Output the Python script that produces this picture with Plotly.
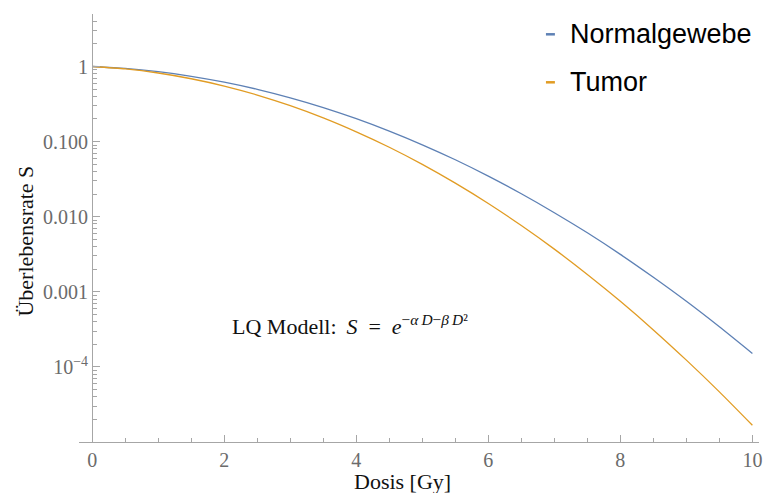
import plotly.graph_objects as go

# Dose grid [Gy] and surviving fractions of the two tissues
dose = [0.0, 0.5, 1.0, 1.5, 2.0, 2.5, 3.0, 3.5, 4.0, 4.5, 5.0,
        5.5, 6.0, 6.5, 7.0, 7.5, 8.0, 8.5, 9.0, 9.5, 10.0]
s_normal = [1.0, 0.942, 0.852, 0.741, 0.619, 0.497, 0.383, 0.284, 0.202, 0.138, 0.0907,
            0.0573, 0.0347, 0.0202, 0.0113, 0.0061, 0.00315, 0.00156, 0.000747, 0.000342, 0.000151]
s_tumor = [1.0, 0.928, 0.819, 0.687, 0.549, 0.417, 0.301, 0.207, 0.135, 0.0842, 0.0498,
           0.0280, 0.0150, 0.00763, 0.00370, 0.00170, 0.000747, 0.000311, 0.000123, 0.0000465, 0.0000167]

series_names = ["Normalgewebe", "Tumor"]
colors = ["#5E81B5", "#E19C24"]

x_ticks = [0, 2, 4, 6, 8, 10]
y_ticks = [1, 0.1, 0.01, 0.001, 0.0001]
y_ticktext = ["1", "0.100", "0.010", "0.001", "10<sup>\u22124</sup>"]

AXIS = "#a6a6a6"
TICKFONT = dict(family="Liberation Serif", size=20, color="#6b6b6b")
SERIF = "Liberation Serif"

fig = go.Figure()
for name, ys, col in zip(series_names, [s_normal, s_tumor], colors):
    fig.add_trace(go.Scatter(x=dose, y=ys, mode="lines", name=name,
                             line=dict(color=col, width=1.3, shape="spline", smoothing=0.6),
                             showlegend=False))

# minor ticks on the log axis: 2..9 in each decade
y_minor = [m * 10.0 ** k for k in range(-5, 1) for m in range(2, 10)]
y_minor = [v for v in y_minor if v <= 5.0]

fig.update_layout(
    width=767, height=493,
    margin=dict(l=79, r=5, t=14, b=51),
    paper_bgcolor="white", plot_bgcolor="white",
    xaxis=dict(range=[-0.2, 10.1], showgrid=False, zeroline=False,
               showline=True, linecolor=AXIS, linewidth=1.2,
               tickmode="array", tickvals=x_ticks,
               ticks="inside", ticklen=7, tickcolor=AXIS, tickwidth=1,
               tickfont=TICKFONT,
               minor=dict(tick0=0, dtick=0.5, ticks="inside", ticklen=4,
                          tickcolor=AXIS, tickwidth=1)),
    yaxis=dict(type="log", range=[-5, 0.699], showgrid=False, zeroline=False,
               anchor="free", position=0.2 / 10.3,
               showline=True, linecolor=AXIS, linewidth=1.2,
               tickmode="array", tickvals=y_ticks, ticktext=y_ticktext,
               ticks="inside", ticklen=7, tickcolor=AXIS, tickwidth=1,
               tickfont=TICKFONT,
               minor=dict(tickmode="array", tickvals=y_minor, ticks="inside",
                          ticklen=4, tickcolor=AXIS, tickwidth=1)),
)

# axis titles
fig.add_annotation(text="Dosis [Gy]", xref="paper", yref="paper",
                   x=(404 - 79) / 683, y=(441.7 - 481) / 428,
                   xanchor="center", yanchor="middle", showarrow=False,
                   font=dict(family=SERIF, size=22, color="#111111"))
fig.add_annotation(text="Überlebensrate S", xref="paper", yref="paper",
                   x=(25 - 79) / 683, y=(441.7 - 241) / 428, textangle=-90,
                   xanchor="center", yanchor="middle", showarrow=False,
                   font=dict(family=SERIF, size=22, color="#111111"))

# model formula
fig.add_annotation(
    text=("LQ Modell:\u2009 <i>S</i>\u2002=\u2002<i>e</i>"
          "<sup>\u2212<i>\u03b1</i>\u2009<i>D</i>\u2212<i>\u03b2</i>\u2009<i>D</i>\u00b2</sup>"),
    xref="paper", yref="paper", x=(231 - 79) / 683, y=(441.7 - 325) / 428,
    xanchor="left", yanchor="middle", showarrow=False,
    font=dict(family=SERIF, size=22, color="#111111"))

# legend: short coloured dashes with labels
legend_rows = [34, 82]
for name, col, py in zip(series_names, colors, legend_rows):
    yp = (441.7 - py) / 428
    fig.add_shape(type="line", xref="paper", yref="paper",
                  x0=(548 - 79) / 683, x1=(557 - 79) / 683, y0=yp, y1=yp,
                  line=dict(color=col, width=2.5))
    fig.add_annotation(text=name, xref="paper", yref="paper",
                       x=(570 - 79) / 683, y=yp, xanchor="left", yanchor="middle",
                       showarrow=False,
                       font=dict(family="Liberation Sans", size=27, color="black"))

fig.write_html("out.html")
